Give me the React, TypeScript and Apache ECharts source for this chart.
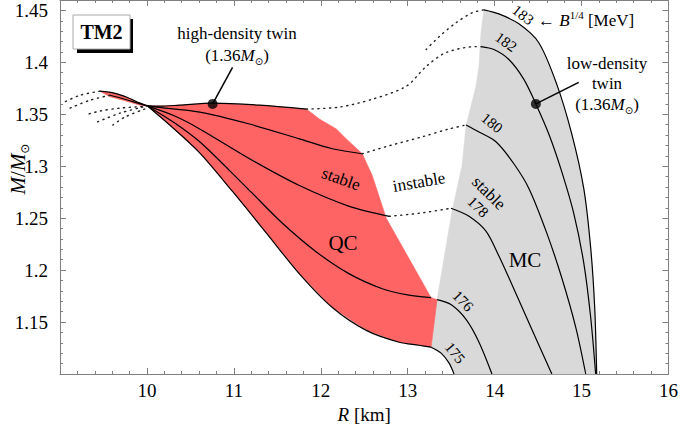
import React, { useEffect, useRef } from "react";
import * as echarts from "echarts";

const FONT = '"Liberation Serif", "DejaVu Serif", serif';

const xTickLabels = [10, 11, 12, 13, 14, 15, 16];
const yTickLabels = [1.15, 1.2, 1.25, 1.3, 1.35, 1.4, 1.45];

// QC (quark-core) stable branches, R [km], M [Msun]
const qc182 = [[9.459, 1.3722], [9.631, 1.3702], [9.769, 1.3664], [9.895, 1.3616], [10.010, 1.3583], [10.148, 1.3578], [10.377, 1.3588], [10.756, 1.3607], [11.295, 1.3588], [11.834, 1.3550]];
const qc180 = [[9.574, 1.3683], [9.746, 1.3645], [9.895, 1.3607], [10.010, 1.3578], [10.607, 1.3521], [11.180, 1.3406], [11.754, 1.3263], [12.133, 1.3168], [12.477, 1.3120]];
const qc178 = [[10.010, 1.3578], [10.320, 1.3483], [10.607, 1.3359], [11.180, 1.3072], [11.754, 1.2814], [12.328, 1.2614], [12.787, 1.2518]];
const qc176 = [[10.010, 1.3578], [10.320, 1.3416], [10.607, 1.3235], [10.951, 1.2958], [11.203, 1.2748], [11.559, 1.2451], [11.949, 1.2175], [12.328, 1.1964], [12.707, 1.1821], [12.982, 1.1764], [13.269, 1.1735]];
const qc175 = [[10.010, 1.3578], [10.262, 1.3397], [10.607, 1.3129], [10.985, 1.2757], [11.375, 1.2356], [11.754, 1.1964], [12.133, 1.1640], [12.523, 1.1420], [12.902, 1.1306], [13.131, 1.1277], [13.269, 1.1258]];
const sliverLower = [[9.459, 1.3722], [9.574, 1.3669], [9.746, 1.3630], [9.918, 1.3588], [10.010, 1.3578]];
const redEdge = [[11.984, 1.3454], [12.179, 1.3359], [12.294, 1.3263], [12.477, 1.3120], [12.592, 1.2910], [12.753, 1.2499], [13.269, 1.1735], [13.338, 1.1716], [13.269, 1.1258]];

// MC (hadronic) stable branches
const mc183 = [[13.877, 1.4505], [14.049, 1.4466], [14.279, 1.4371], [14.508, 1.4189], [14.715, 1.3788], [14.887, 1.3311], [15.025, 1.2786], [15.105, 1.2213], [15.151, 1.1640], [15.174, 1.10]];
const mc182 = [[13.843, 1.4151], [13.992, 1.4123], [14.164, 1.4027], [14.336, 1.3836], [14.474, 1.3600], [14.623, 1.3311], [14.761, 1.2977], [14.910, 1.2547], [15.025, 1.2070], [15.105, 1.1544], [15.162, 1.10]];
const mc180 = [[13.671, 1.3397], [13.820, 1.3330], [14.015, 1.3235], [14.221, 1.3024], [14.394, 1.2786], [14.600, 1.2356], [14.772, 1.1926], [14.933, 1.1449], [15.048, 1.10]];
const mc178 = [[13.498, 1.2595], [13.705, 1.2518], [13.900, 1.2375], [14.049, 1.2136], [14.164, 1.1926], [14.417, 1.1449], [14.658, 1.10]];
const mc176 = [[13.338, 1.1716], [13.498, 1.1668], [13.671, 1.1525], [13.820, 1.1306], [13.969, 1.10]];
const mc175 = [[13.269, 1.1258], [13.384, 1.1201], [13.476, 1.1105], [13.533, 1.10]];
const grayEdge = [[13.877, 1.4505], [13.843, 1.4285], [13.820, 1.3960], [13.785, 1.3769], [13.671, 1.3387], [13.625, 1.3005], [13.510, 1.2566], [13.338, 1.1716], [13.269, 1.1258]];

// unstable branches (dotted)
const uns183 = [[13.212, 1.4123], [13.361, 1.4247], [13.556, 1.4381], [13.739, 1.4476], [13.877, 1.4505]];
const uns182 = [[11.834, 1.3550], [12.213, 1.3569], [12.592, 1.3645], [12.982, 1.3769], [13.212, 1.3960], [13.441, 1.4094], [13.785, 1.4151], [13.843, 1.4151]];
const uns180 = [[12.477, 1.3120], [12.787, 1.3197], [13.166, 1.3283], [13.476, 1.3359], [13.671, 1.3397]];
const uns178 = [[12.787, 1.2518], [13.131, 1.2547], [13.498, 1.2595]];
const unsL1 = [[9.459, 1.3722], [9.230, 1.3683], [9.023, 1.3607]];
const unsL2 = [[9.574, 1.3683], [9.344, 1.3635], [9.115, 1.3559]];
const unsL3 = [[10.010, 1.3578], [9.689, 1.3559], [9.459, 1.3531], [9.287, 1.3492]];
const unsL4 = [[9.952, 1.3569], [9.689, 1.3511], [9.402, 1.3416]];
const unsL5 = [[9.975, 1.3550], [9.746, 1.3473], [9.608, 1.3397]];

const highTwin = [[10.756, 1.36]];
const lowTwin = [[14.474, 1.36]];
const highTwinPointer = [[10.756, 1.36], [10.985, 1.3951]];
const lowTwinPointer = [[14.474, 1.36], [14.967, 1.3807]];

const redRegion = [...qc182, ...redEdge, ...qc175.slice().reverse(), ...sliverLower.slice().reverse()];
const grayRegion = [...grayEdge, ...mc175.slice(1), ...mc183.slice().reverse()];

const AX = "#808080";

const solid = (data: number[][]) => ({
  type: "line", data, showSymbol: false, symbol: "none", smooth: 0.3, silent: true, z: 3,
  lineStyle: { color: "#000", width: 1.2 },
});
const dotted = (data: number[][]) => ({
  type: "line", data, showSymbol: false, symbol: "none", smooth: 0.3, silent: true, z: 3,
  lineStyle: { color: "#222", width: 1.4, type: [1.2, 4.6], cap: "round" },
});
const poly = (pts: number[][], color: string) => ({
  type: "custom", coordinateSystem: "cartesian2d", data: [[12, 1.3]], encode: { x: 0, y: 1 }, z: 1, silent: true,
  renderItem: (_p: any, api: any) => ({
    type: "polygon",
    shape: { points: pts.map((p) => api.coord(p)) },
    style: { fill: color, stroke: color, lineWidth: 0.6 },
  }),
});

const richM = {
  n: { fontSize: 17, fontFamily: FONT, fill: "#000", lineHeight: 22 },
  i: { fontSize: 17, fontFamily: FONT, fontStyle: "italic", fill: "#000", lineHeight: 22 },
  s: { fontSize: 10, fontFamily: "DejaVu Sans", fill: "#000", verticalAlign: "bottom", lineHeight: 11 },
  t: { fontSize: 11, fontFamily: FONT, fill: "#000", verticalAlign: "top", lineHeight: 11 },
};

const T = (x: number, y: number, text: string, size = 17, rot = 0, extra: any = {}) => ({
  type: "text", x, y, rotation: rot, z: 100, silent: true,
  style: { text, fontSize: size, fontFamily: FONT, fill: "#000", align: "center", verticalAlign: "middle", ...extra },
});

const majorX = (pos: string, labels: boolean) => ({
  type: "value", min: 9, max: 16, interval: 1, position: pos,
  axisLine: { show: true, onZero: false, lineStyle: { color: AX, width: 1 } },
  axisTick: { show: true, inside: true, length: 6, lineStyle: { color: AX } },
  minorTick: { show: true, splitNumber: 5, length: 3, lineStyle: { color: AX } },
  splitLine: { show: false }, minorSplitLine: { show: false },
  axisLabel: labels
    ? {
        show: true, color: "#000", fontSize: 19, fontFamily: FONT, margin: 7, showMinLabel: false,
        formatter: (v: number) => (xTickLabels.includes(Math.round(v)) ? String(Math.round(v)) : ""),
      }
    : { show: false },
  ...(labels
    ? {
        name: "{i|R} [km]", nameLocation: "middle", nameGap: 31,
        nameTextStyle: { color: "#000", fontSize: 19, fontFamily: FONT, rich: { i: { fontStyle: "italic", fontSize: 19, fontFamily: FONT, color: "#000" } } },
      }
    : {}),
});

const yAx = (pos: string, interval: number, tickLen: number, labels: boolean, line: boolean) => ({
  type: "value", min: 1.1, max: 1.46, interval, position: pos,
  axisLine: { show: line, onZero: false, lineStyle: { color: AX, width: 1 } },
  axisTick: { show: true, inside: true, length: tickLen, lineStyle: { color: AX } },
  splitLine: { show: false },
  axisLabel: labels
    ? {
        show: true, color: "#000", fontSize: 19, fontFamily: FONT, margin: 12, showMaxLabel: false,
        formatter: (v: number) => {
          const r = Math.round(v * 100) / 100;
          return yTickLabels.some((t) => Math.abs(t - r) < 1e-6) ? String(r) : "";
        },
      }
    : { show: false },
});

const option: any = {
  animation: false,
  backgroundColor: "#fff",
  grid: { left: 60, right: 11, top: 0, bottom: 52, containLabel: false },
  xAxis: [majorX("bottom", true), majorX("top", false)],
  yAxis: [
    yAx("left", 0.05, 6, true, true),
    yAx("left", 0.01, 3, false, false),
    yAx("right", 0.05, 6, false, true),
    yAx("right", 0.01, 3, false, false),
  ],
  series: [
    poly(grayRegion, "#d9d9d9"),
    poly(redRegion, "#ff6464"),
    solid(qc182), solid(qc180), solid(qc178), solid(qc176), solid(qc175),
    solid(mc183), solid(mc182), solid(mc180), solid(mc178), solid(mc176), solid(mc175),
    dotted(uns183), dotted(uns182), dotted(uns180), dotted(uns178),
    dotted(unsL1), dotted(unsL2), dotted(unsL3), dotted(unsL4), dotted(unsL5),
    { type: "line", data: highTwinPointer, showSymbol: false, symbol: "none", silent: true, z: 4, lineStyle: { color: "#000", width: 1.5 } },
    { type: "line", data: lowTwinPointer, showSymbol: false, symbol: "none", silent: true, z: 4, lineStyle: { color: "#000", width: 1.5 } },
    { type: "scatter", data: highTwin, symbolSize: 10, itemStyle: { color: "#000" }, silent: true, z: 5 },
    { type: "scatter", data: lowTwin, symbolSize: 10, itemStyle: { color: "#000" }, silent: true, z: 5 },
  ],
  graphic: [
    { type: "rect", z: 99, silent: true, shape: { x: 77, y: 19, width: 56, height: 34 }, style: { fill: "#000" } },
    { type: "rect", z: 100, silent: true, shape: { x: 73, y: 15, width: 57, height: 34 }, style: { fill: "#fff", stroke: "#aaa", lineWidth: 1 } },
    T(101.5, 32, "TM2", 20, 0, { fontWeight: "bold" }),
    T(237, 33, "high-density twin"),
    T(237, 55, "{n|(1.36}{i|M}{s|⊙}{n|)}", 17, 0, { rich: richM }),
    T(607, 63, "low-density"),
    T(607, 83, "twin"),
    T(607, 104, "{n|(1.36}{i|M}{s|⊙}{n|)}", 17, 0, { rich: richM }),
    T(523, 15, "183", 15, -0.66),
    T(538, 20, "{n|← }{i|B}{t|1/4}{n| [MeV]}", 17, 0, { rich: richM, align: "left" }),
    T(506, 42, "182", 15, -0.62),
    T(492, 123, "180", 15, -0.68),
    T(478, 207, "178", 15, -0.76),
    T(463, 301, "176", 15, -0.8),
    T(455, 353, "175", 15, -0.88),
    T(341, 179, "stable", 17, -0.34),
    T(419, 182, "instable", 17, 0.17),
    T(489, 193, "stable", 17, -0.78),
    T(343, 243, "QC", 21),
    T(525, 260, "MC", 21),
    {
      type: "text", x: 18, y: 169, rotation: Math.PI / 2, z: 100, silent: true,
      style: {
        text: "{i|M}{n|/}{i|M}{s|⊙}", align: "center", verticalAlign: "middle",
        rich: {
          n: { fontSize: 21, fontFamily: FONT, fill: "#000", lineHeight: 26 },
          i: { fontSize: 21, fontFamily: FONT, fontStyle: "italic", fill: "#000", lineHeight: 26 },
          s: { fontSize: 12, fontFamily: "DejaVu Sans", fill: "#000", verticalAlign: "bottom", lineHeight: 13 },
        },
      },
    },
  ],
};

export default function App() {
  const ref = useRef<HTMLDivElement>(null);
  useEffect(() => {
    document.body.style.margin = "0";
    const chart = echarts.init(ref.current!, null, { renderer: "svg" });
    chart.setOption(option);
    return () => chart.dispose();
  }, []);
  return <div ref={ref} style={{ width: 681, height: 429 }} />;
}
